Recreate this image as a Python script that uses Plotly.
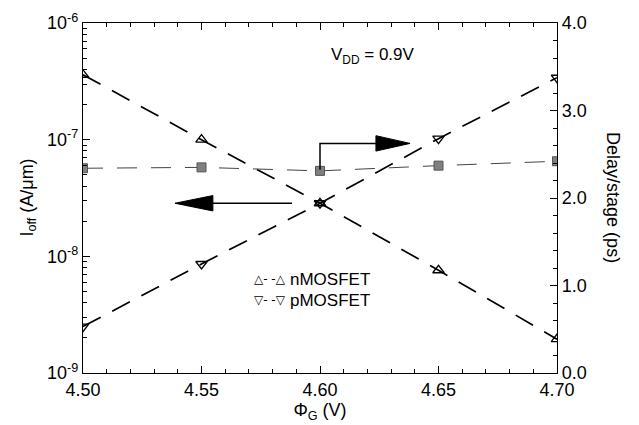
import plotly.graph_objects as go

# Gate work function (V)
phi_g = [4.50, 4.55, 4.60, 4.65, 4.70]

# Off-state leakage current (A/um)
ioff_nmos = [3.6e-7, 1.0e-7, 2.85e-8, 7.6e-9, 1.95e-9]
ioff_pmos = [2.5e-9, 8.6e-9, 2.85e-8, 1.02e-7, 3.4e-7]

# Inverter delay per stage (ps)
delay_ps = [2.34, 2.35, 2.31, 2.37, 2.42]

x_ticks = [4.50, 4.55, 4.60, 4.65, 4.70]
x_ticktext = ["4.50", "4.55", "4.60", "4.65", "4.70"]
y_ticks = [1e-9, 1e-8, 1e-7, 1e-6]
y_ticktext = ["10<sup>-9</sup>", "10<sup>-8</sup>", "10<sup>-7</sup>", "10<sup>-6</sup>"]
y_minor = [m * 10 ** e for e in (-9, -8, -7) for m in range(2, 10)]
y2_ticks = [0, 1, 2, 3, 4]
y2_ticktext = ["0.0", "1.0", "2.0", "3.0", "4.0"]

FONT = "Liberation Sans, Arial, Helvetica, sans-serif"

fig = go.Figure()

fig.add_trace(go.Scatter(
    x=phi_g, y=ioff_nmos, mode="lines+markers", name="nMOSFET",
    line=dict(color="black", width=1.7, dash="20px,13px"),
    marker=dict(symbol="triangle-up-open", size=10, color="black",
                line=dict(width=1.3)),
    showlegend=False,
))
fig.add_trace(go.Scatter(
    x=phi_g, y=ioff_pmos, mode="lines+markers", name="pMOSFET",
    line=dict(color="black", width=1.7, dash="20px,13px"),
    marker=dict(symbol="triangle-down-open", size=10, color="black",
                line=dict(width=1.3)),
    showlegend=False,
))
fig.add_trace(go.Scatter(
    x=phi_g, y=delay_ps, mode="lines+markers", name="Delay",
    yaxis="y2",
    line=dict(color="#444444", width=1, dash="20px,14px"),
    marker=dict(symbol="square", size=9, color="#808080",
                line=dict(color="#555555", width=1)),
    showlegend=False,
))

axis_common = dict(
    showline=True, linecolor="black", linewidth=1.3,
    ticks="inside", tickcolor="black", ticklen=7, tickwidth=1.2,
    showgrid=False, zeroline=False,
    tickfont=dict(family=FONT, size=18, color="black"),
)

fig.update_layout(
    width=639, height=425,
    margin=dict(l=83, r=82, t=11, b=51),
    paper_bgcolor="white", plot_bgcolor="white",
    font=dict(family=FONT, color="black"),
    xaxis=dict(
        range=[4.50, 4.70], tickvals=x_ticks, ticktext=x_ticktext,
        mirror="ticks",
        minor=dict(ticks="inside", dtick=0.01, ticklen=4, tickcolor="black"),
        title=dict(text="Φ<sub>G</sub> (V)", font=dict(family=FONT, size=18),
                   standoff=2),
        **axis_common,
    ),
    yaxis=dict(
        type="log", range=[-9, -6], tickvals=y_ticks, ticktext=y_ticktext,
        minor=dict(ticks="inside", tickvals=y_minor, ticklen=4,
                   tickcolor="black"),
        **axis_common,
    ),
    yaxis2=dict(
        overlaying="y", side="right", range=[0, 4],
        tickvals=y2_ticks, ticktext=y2_ticktext,
        minor=dict(ticks="inside", dtick=0.2, ticklen=4, tickcolor="black"),
        **axis_common,
    ),
)

# Axis titles drawn as annotations for control of rotation
fig.add_annotation(
    text="I<sub>off</sub> (A/μm)", xref="paper", yref="paper",
    x=-0.117, y=0.5, xanchor="center", yanchor="middle",
    textangle=-90, showarrow=False, font=dict(family=FONT, size=18),
)
fig.add_annotation(
    text="Delay/stage (ps)", xref="paper", yref="paper",
    x=1.118, y=0.5, xanchor="center", yanchor="middle",
    textangle=90, showarrow=False, font=dict(family=FONT, size=18),
)

# Supply voltage label
fig.add_annotation(
    text="V<sub>DD</sub> = 0.9V", xref="paper", yref="paper",
    x=0.612, y=0.905, xanchor="center", yanchor="middle",
    showarrow=False, font=dict(family=FONT, size=17),
)

# Key for the two device types
fig.add_annotation(
    text="△- -△", xref="paper", yref="paper", x=0.356, y=0.268,
    xanchor="left", yanchor="middle", showarrow=False,
    font=dict(family="DejaVu Sans", size=12),
)
fig.add_annotation(
    text="nMOSFET", xref="paper", yref="paper", x=0.432, y=0.268,
    xanchor="left", yanchor="middle", showarrow=False,
    font=dict(family=FONT, size=17),
)
fig.add_annotation(
    text="▽- -▽", xref="paper", yref="paper", x=0.356, y=0.208,
    xanchor="left", yanchor="middle", showarrow=False,
    font=dict(family="DejaVu Sans", size=12),
)
fig.add_annotation(
    text="pMOSFET", xref="paper", yref="paper", x=0.432, y=0.208,
    xanchor="left", yanchor="middle", showarrow=False,
    font=dict(family=FONT, size=17),
)

# Arrows pointing to the axis each curve family belongs to
arrow_line = dict(color="black", width=1.5)
# right arrow (delay -> right axis)
fig.add_shape(type="path", xref="paper", yref="paper",
              path="M 0.5 0.581 L 0.5 0.656 L 0.625 0.656",
              line=arrow_line)
fig.add_shape(type="path", xref="paper", yref="paper",
              path="M 0.618 0.634 L 0.690 0.656 L 0.618 0.678 Z",
              fillcolor="black", line=dict(color="black", width=1))
# left arrow (leakage -> left axis)
fig.add_shape(type="line", xref="paper", yref="paper",
              x0=0.441, y0=0.485, x1=0.27, y1=0.485, line=arrow_line)
fig.add_shape(type="path", xref="paper", yref="paper",
              path="M 0.274 0.463 L 0.194 0.485 L 0.274 0.507 Z",
              fillcolor="black", line=dict(color="black", width=1))

fig.write_html("out.html")
